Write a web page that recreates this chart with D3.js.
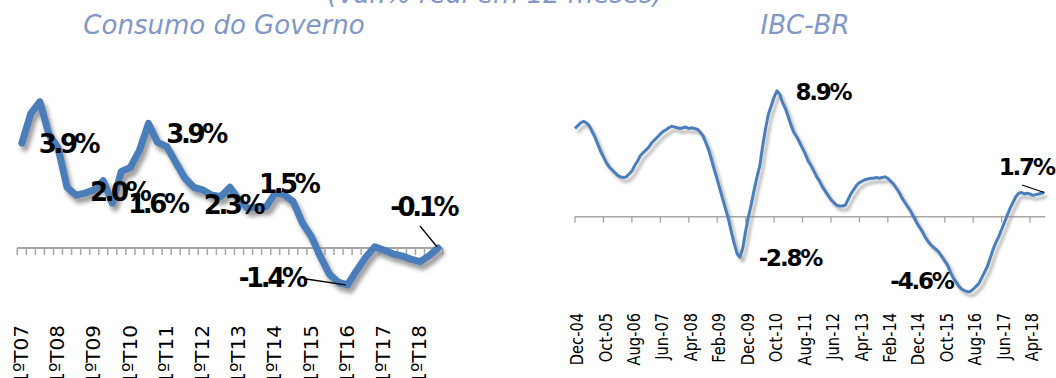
<!DOCTYPE html>
<html>
<head>
<meta charset="utf-8">
<script src="https://cdn.jsdelivr.net/npm/d3@7"></script>
<style>
  html, body { margin: 0; padding: 0; background: #fff; }
  svg { display: block; font-family: "DejaVu Sans", Verdana, sans-serif; }
</style>
</head>
<body>
<div id="chart"></div>
<script>
// titles
const mainTitle = '(Var.% real em 12 meses)';
const leftTitle = 'Consumo do Governo';
const rightTitle = 'IBC-BR';

// Consumo do Governo, quarterly 1ºT07 .. 3ºT18
const govYears = ['07', '08', '09', '10', '11', '12', '13', '14', '15', '16', '17', '18'];
const govQuarters = [];
govYears.forEach(function (y) {
    for (let q = 1; q <= 4; q++) govQuarters.push(q + 'ºT' + y);
});
govQuarters.length = 47;
const govValues = [3.97, 5.1, 5.54, 4.3, 3.8, 2.3, 2.0, 2.08, 2.2, 2.55, 1.7, 2.9,
    3.05, 3.7, 4.72, 4.0, 3.85, 3.25, 2.65, 2.3, 2.2, 2.0, 1.95, 2.3,
    1.82, 1.5, 1.55, 1.56, 2.08, 2.02, 1.75, 0.95, 0.43, -0.33, -1.0, -1.3,
    -1.4, -0.85, -0.35, 0.05, -0.08, -0.22, -0.3, -0.42, -0.52, -0.3, 0.0];
const govTickLabels = ['1ºT07', '1ºT08', '1ºT09', '1ºT10', '1ºT11', '1ºT12', '1ºT13', '1ºT14', '1ºT15', '1ºT16', '1ºT17', '1ºT18'];
const govLabelIdx = [4, 16, 8, 10, 23, 28, 36, 46];
const govLabelText = ['3.9%', '3.9%', '2.0%', '1.6%', '2.3%', '1.5%', '-1.4%', '-0.1%'];

// IBC-BR, monthly Dec-04 .. Sep-18
const ibcMonths = d3.timeMonth.range(new Date(2004, 11, 1), new Date(2018, 9, 1)).map(d3.timeFormat('%b-%y'));
const ibcValues = [
    6.2, 6.4, 6.6, 6.7, 6.6, 6.4, 6.0, 5.6, 5.1, 4.6, 4.2, 3.8,
    3.5, 3.3, 3.1, 2.9, 2.8, 2.75, 2.8, 3.0, 3.2, 3.6, 3.9, 4.3,
    4.5, 4.7, 4.9, 5.2, 5.4, 5.6, 5.8, 6.0, 6.1, 6.25, 6.35, 6.3,
    6.25, 6.2, 6.25, 6.3, 6.2, 6.25, 6.2, 6.15, 5.95, 5.7, 5.2, 4.7,
    4.0, 3.3, 2.6, 1.9, 1.2, 0.5, -0.2, -1.1, -1.9, -2.6, -2.85, -2.2,
    -1.0, 0.0, 0.9, 1.9, 2.8, 3.6, 5.0, 6.2, 7.2, 7.8, 8.4, 8.85,
    8.6, 8.0, 7.6, 7.0, 6.4, 5.9, 5.6, 5.2, 4.8, 4.4, 3.9, 3.6,
    3.2, 2.8, 2.5, 2.1, 1.8, 1.5, 1.2, 1.0, 0.8, 0.75, 0.75, 0.8,
    1.2, 1.6, 1.9, 2.2, 2.4, 2.5, 2.6, 2.65, 2.7, 2.7, 2.75, 2.7,
    2.75, 2.8, 2.7, 2.5, 2.3, 2.0, 1.7, 1.3, 1.0, 0.7, 0.4, 0.0,
    -0.35, -0.7, -1.0, -1.4, -1.7, -1.95, -2.15, -2.3, -2.5, -2.8, -3.1, -3.4,
    -3.9, -4.3, -4.6, -4.9, -5.1, -5.2, -5.27, -5.25, -5.1, -4.9, -4.7, -4.3,
    -3.9, -3.5, -2.9, -2.3, -1.8, -1.4, -0.9, -0.4, 0.1, 0.6, 1.0, 1.4,
    1.65, 1.7, 1.6, 1.65, 1.6, 1.5, 1.55, 1.6, 1.65, 1.7];
const ibcTickLabels = ['Dec-04', 'Oct-05', 'Aug-06', 'Jun-07', 'Apr-08', 'Feb-09', 'Dec-09', 'Oct-10', 'Aug-11',
    'Jun-12', 'Apr-13', 'Feb-14', 'Dec-14', 'Oct-15', 'Aug-16', 'Jun-17', 'Apr-18'];
const ibcLabelIdx = [71, 58, 138, 165];
const ibcLabelText = ['8.9%', '-2.8%', '-4.6%', '1.7%'];

const width = 1056;
const height = 378;
const blue = '#4a7ebb';
const titleColor = '#8197c9';

const svg = d3.select('#chart').append('svg')
    .attr('width', width)
    .attr('height', height);

const defs = svg.append('defs');
function shadow(id, dx, dy, blur, op) {
    const f = defs.append('filter').attr('id', id)
        .attr('x', '-10%').attr('y', '-10%').attr('width', '120%').attr('height', '130%');
    f.append('feDropShadow')
        .attr('dx', dx).attr('dy', dy).attr('stdDeviation', blur)
        .attr('flood-color', '#7a7a7a').attr('flood-opacity', op);
}
shadow('shL', 3, 5, 2, 0.75);
shadow('shR', 3, 4, 1.6, 0.55);

// titles
svg.append('text').attr('x', 495).attr('y', 3).attr('text-anchor', 'middle')
    .attr('font-size', 26).attr('font-style', 'italic').attr('fill', titleColor).text(mainTitle);
svg.append('text').attr('x', 224).attr('y', 34).attr('text-anchor', 'middle')
    .attr('font-size', 26).attr('font-style', 'italic').attr('fill', titleColor).text(leftTitle);
svg.append('text').attr('x', 805).attr('y', 34).attr('text-anchor', 'middle')
    .attr('font-size', 26).attr('font-style', 'italic').attr('fill', titleColor).text(rightTitle);

// ---------- left chart ----------
const xL = d3.scalePoint().domain(govQuarters).range([21.8, 438.1]);
const yL = d3.scaleLinear().domain([-2, 6]).range([248 + 2 * 26.4, 248 - 6 * 26.4]);
const stepL = xL.step();

const gL = svg.append('g');
gL.append('line')
    .attr('x1', xL(govQuarters[0]) - stepL / 2).attr('x2', xL(govQuarters[46]) + stepL / 2)
    .attr('y1', yL(0)).attr('y2', yL(0))
    .attr('stroke', '#a6a6a6').attr('stroke-width', 2);
gL.selectAll('line.tk').data(d3.range(48)).enter().append('line')
    .attr('class', 'tk')
    .attr('x1', function (i) { return xL(govQuarters[0]) - stepL / 2 + i * stepL; })
    .attr('x2', function (i) { return xL(govQuarters[0]) - stepL / 2 + i * stepL; })
    .attr('y1', yL(0)).attr('y2', yL(0) + 7)
    .attr('stroke', '#a6a6a6').attr('stroke-width', 1.5);

gL.selectAll('text.xl').data(govTickLabels).enter().append('text')
    .attr('class', 'xl')
    .attr('transform', function (d) { return 'translate(' + (xL(d) - 1) + ',325) rotate(-90)'; })
    .attr('text-anchor', 'end').attr('dy', '0.36em')
    .attr('font-size', 20).attr('fill', '#000').text(function (d) { return d; });

gL.append('path').datum(govValues)
    .attr('d', d3.line().x(function (d, i) { return xL(govQuarters[i]); }).y(function (d) { return yL(d); }))
    .attr('fill', 'none').attr('stroke', blue).attr('stroke-width', 7)
    .attr('stroke-linejoin', 'round').attr('stroke-linecap', 'round')
    .attr('filter', 'url(#shL)');

// label offsets from their points (px)
const govLabelOffset = [[10, -4], [29, -13], [25, 2], [45, 1], [3, 17], [13, -9], [-76, -7], [-15, -41]];
gL.append('line').attr('x1', 306).attr('y1', 279)
    .attr('x2', xL(govQuarters[36]) - 2).attr('y2', yL(govValues[36]))
    .attr('stroke', '#000').attr('stroke-width', 1.3);
gL.append('line').attr('x1', 420).attr('y1', 226)
    .attr('x2', xL(govQuarters[46]) - 1).attr('y2', yL(govValues[46]) - 1)
    .attr('stroke', '#000').attr('stroke-width', 1.3);
gL.selectAll('text.dl').data(govLabelIdx).enter().append('text')
    .attr('class', 'dl')
    .attr('x', function (d, k) { return xL(govQuarters[d]) + govLabelOffset[k][0]; })
    .attr('y', function (d, k) { return yL(govValues[d]) + govLabelOffset[k][1]; })
    .attr('dy', '0.36em').attr('text-anchor', 'middle')
    .attr('font-size', 26).attr('font-weight', 'bold').attr('letter-spacing', -3.4)
    .attr('fill', '#000')
    .text(function (d, k) { return govLabelText[k]; });

// ---------- right chart ----------
const xR = d3.scalePoint().domain(ibcMonths).range([575, 575 + 165 * 2.844]);
const yR = d3.scaleLinear().domain([-6, 10]).range([216.7 + 6 * 14.23, 216.7 - 10 * 14.23]);

const gR = svg.append('g');
gR.append('line')
    .attr('x1', 575).attr('x2', xR(ibcMonths[165]) + 1)
    .attr('y1', yR(0)).attr('y2', yR(0))
    .attr('stroke', '#a6a6a6').attr('stroke-width', 1.5);
gR.selectAll('line.tk').data(ibcTickLabels).enter().append('line')
    .attr('class', 'tk')
    .attr('x1', function (d) { return xR(d); }).attr('x2', function (d) { return xR(d); })
    .attr('y1', yR(0)).attr('y2', yR(0) + 6)
    .attr('stroke', '#a6a6a6').attr('stroke-width', 1.3);
gR.selectAll('text.xl').data(ibcTickLabels).enter().append('text')
    .attr('class', 'xl')
    .attr('transform', function (d) { return 'translate(' + (xR(d) + 2) + ',313) rotate(-90) scale(0.86,1)'; })
    .attr('text-anchor', 'end').attr('dy', '0.36em')
    .attr('font-size', 17).attr('fill', '#000').text(function (d) { return d; });

gR.append('path').datum(ibcValues)
    .attr('d', d3.line().x(function (d, i) { return xR(ibcMonths[i]); }).y(function (d) { return yR(d); }))
    .attr('fill', 'none').attr('stroke', blue).attr('stroke-width', 3)
    .attr('stroke-linejoin', 'round')
    .attr('filter', 'url(#shR)');

const ibcLabelOffset = [[46, 1], [50, 0], [-46, -11], [-18, -26]];
gR.append('line').attr('x1', 1022).attr('y1', 185)
    .attr('x2', xR(ibcMonths[165])).attr('y2', yR(ibcValues[165]))
    .attr('stroke', '#000').attr('stroke-width', 1.3);
gR.selectAll('text.dl').data(ibcLabelIdx).enter().append('text')
    .attr('class', 'dl')
    .attr('x', function (d, k) { return xR(ibcMonths[d]) + ibcLabelOffset[k][0]; })
    .attr('y', function (d, k) { return yR(ibcValues[d]) + ibcLabelOffset[k][1]; })
    .attr('dy', '0.36em').attr('text-anchor', 'middle')
    .attr('font-size', 23).attr('font-weight', 'bold').attr('letter-spacing', -2.2)
    .attr('fill', '#000')
    .text(function (d, k) { return ibcLabelText[k]; });
</script>
</body>
</html>
